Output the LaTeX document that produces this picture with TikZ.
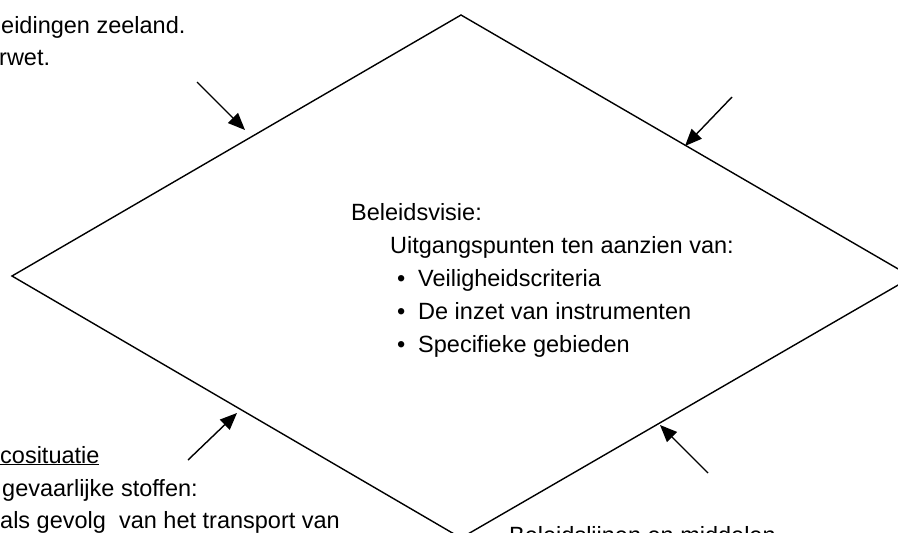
\documentclass[tikz,border=0pt]{standalone}
\usepackage{fontspec}
\setmainfont{Liberation Sans}
\usetikzlibrary{arrows.meta}
\tikzset{txt/.style={anchor=base west,inner sep=0pt,font=\fontsize{23.5}{33}\selectfont}}
\tikzset{pijl/.style={->,line width=1.4pt}}
\tikzset{rand/.style={line width=1.4pt,line join=miter}}
\newcommand{\opsom}[3]{%
  \node[txt] (#1b) at (397,#2) {\textbullet};
  \node[txt] (#1) at (418,#2) {#3};}

\begin{document}
\begin{tikzpicture}[x=1pt,y=-1pt,>={Triangle[length=17pt,width=14pt]}]
    \useasboundingbox (0,0) rectangle (898,533);
    \clip (0,0) rectangle (898,533);
    % de ruit
    \coordinate (boven) at (461,15);
    \coordinate (rechts) at (912,277);
    \coordinate (onder) at (461,538);
    \coordinate (links) at (12,276);
    \draw[rand] (boven) -- (rechts) -- (onder) -- (links) -- cycle;
    % pijlen naar de ruit
    \coordinate (lbs) at (197,82);
    \coordinate (lbe) at (245,130);
    \coordinate (rbs) at (732,97);
    \coordinate (rbe) at (685,146);
    \coordinate (los) at (188,460);
    \coordinate (loe) at (237,413);
    \coordinate (ros) at (708,473);
    \coordinate (roe) at (660,425);
    \draw[pijl] (lbs) -- (lbe);
    \draw[pijl] (rbs) -- (rbe);
    \draw[pijl] (los) -- (loe);
    \draw[pijl] (ros) -- (roe);
    % tekst in de ruit
    \node[txt] (visie) at (351,220) {Beleidsvisie:};
    \node[txt] (uitg) at (390,253) {Uitgangspunten ten aanzien van:};
    \opsom{veil}{286}{Veiligheidscriteria}
    \opsom{inzet}{319}{De inzet van instrumenten}
    \opsom{gebied}{352}{Specifieke gebieden}
    % tekst buiten de ruit
    \node[txt] (kader1) at (1,33) {eidingen zeeland.};
    \node[txt] (kader2) at (-1,65) {rwet.};
    \node[txt] (risico1) at (0,463) {\underline{cosituatie}};
    \node[txt] (risico2) at (2,496) {gevaarlijke stoffen:};
    \node[txt] (risico3) at (0,528) {als gevolg~ van het transport van};
    \node[txt] (lijnen) at (509,543) {Beleidslijnen en middelen};
\end{tikzpicture}
\end{document}
